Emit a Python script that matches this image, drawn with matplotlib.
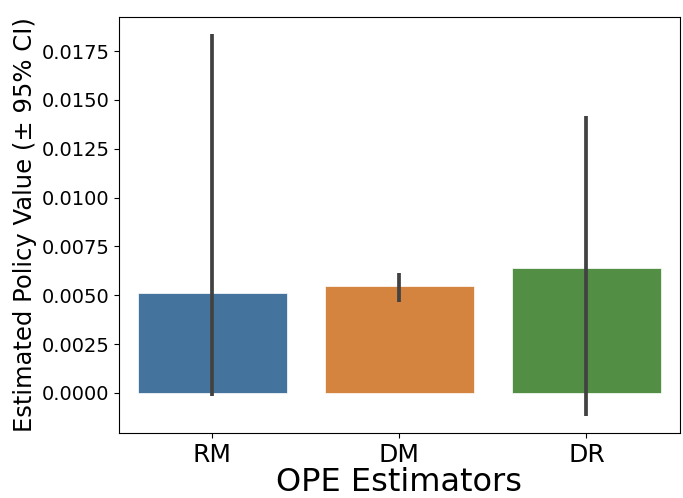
import matplotlib
matplotlib.use('Agg')
import matplotlib.pyplot as plt

# estimators and their estimated policy values (mean, 95% CI)
estimators = ['RM', 'DM', 'DR']
values = [0.00513, 0.00549, 0.00640]
ci_low = [-0.00014, 0.00464, -0.00118]
ci_high = [0.01837, 0.00612, 0.01417]
colors = ['#44749d', '#d5843f', '#528f44']

fig = plt.figure(figsize=(6.83, 4.98), dpi=100)
ax = fig.add_axes([0.1742, 0.1305, 0.8214, 0.8353])

x = range(len(estimators))
ax.bar(x, values, width=0.8, color=colors, edgecolor='white', linewidth=0.5)
ax.vlines(x, ci_low, ci_high, color='#424242', linewidth=2.7)

ax.set_xlim(-0.5, 2.5)
ax.set_ylim(-0.00205, 0.01924)
ax.set_xticks(list(x))
ax.set_xticklabels(estimators, fontsize=18)
ax.set_yticks([i * 0.0025 for i in range(8)])
ax.set_yticklabels([f'{i * 0.0025:.4f}' for i in range(8)], fontsize=14)
ax.set_xlabel('OPE Estimators', fontsize=23, labelpad=0)
ax.set_ylabel('Estimated Policy Value (± 95% CI)', fontsize=17.5, labelpad=3)

fig.savefig('out.png', dpi=100)
